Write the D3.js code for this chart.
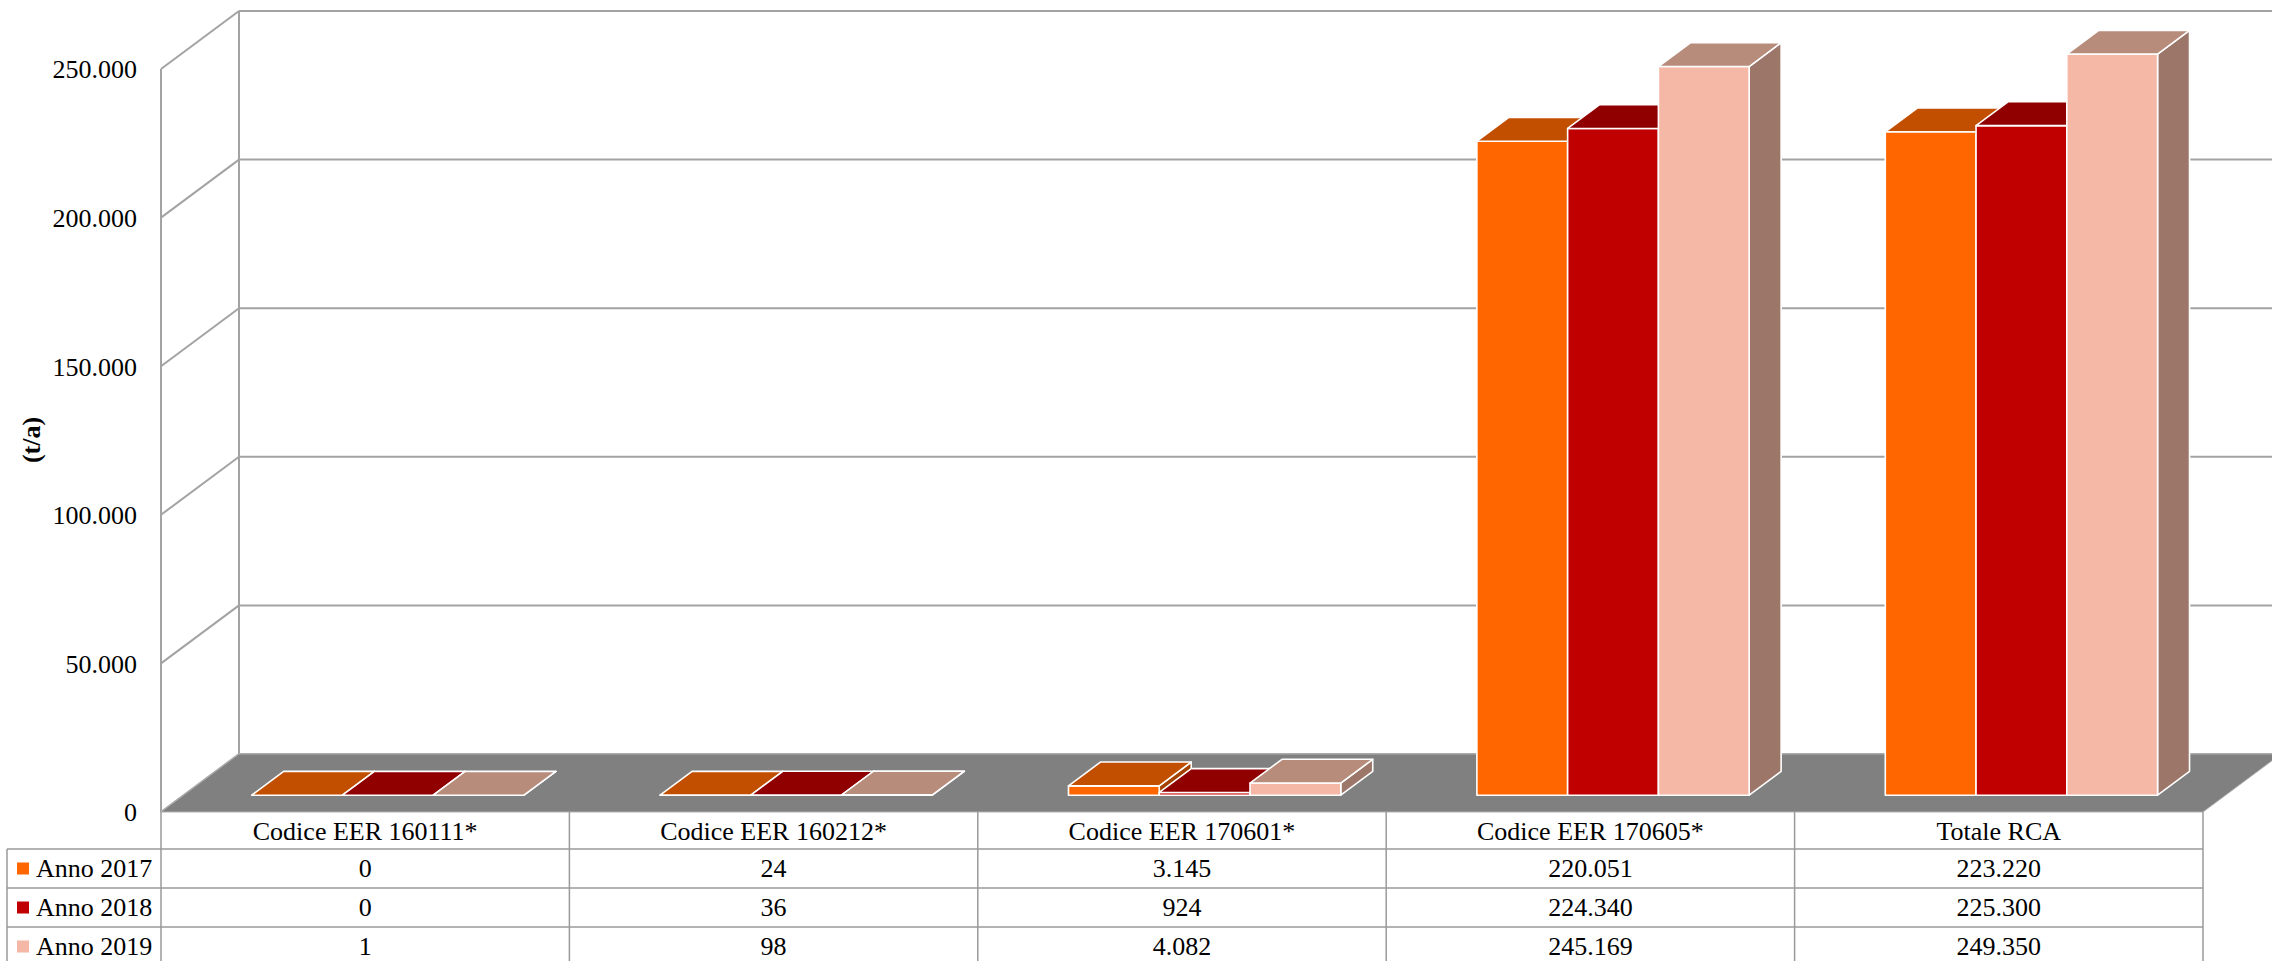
<!DOCTYPE html>
<html lang="it">
<head>
<meta charset="utf-8">
<title>Rifiuti contenenti amianto (t/a)</title>
<script src="https://d3js.org/d3.v7.min.js"></script>
<style>
  body { margin: 0; background: #fff; }
  svg { display: block; }
</style>
</head>
<body>
<svg id="chart"></svg>
<script>
// --- data ---
const categories = ["Codice EER 160111*", "Codice EER 160212*", "Codice EER 170601*", "Codice EER 170605*", "Totale RCA"];
const seriesNames = ["Anno 2017", "Anno 2018", "Anno 2019"];
const anno2017 = [0, 24, 3145, 220051, 223220];
const anno2018 = [0, 36, 924, 224340, 225300];
const anno2019 = [1, 98, 4082, 245169, 249350];
const yTicks = [0, 50000, 100000, 150000, 200000, 250000];
const yTitle = "(t/a)";

const frontColors = ["#FF6600", "#C00000", "#F5B8A6"];
const topColors   = ["#C24F00", "#900000", "#B88C7B"];
const sideColors  = ["#A34200", "#7A0000", "#9C7668"];

const W = 2272, H = 961;
const DX = 78, DY = 58;          // depth of the floor in screen px
const d0 = 0.29, d1 = 0.70;      // bar front / back as fraction of depth
const gridColor = "#a3a3a3";
const FONT = "'Liberation Serif', 'Times New Roman', Times, serif";

const svg = d3.select("#chart").attr("width", W).attr("height", H)
  .attr("font-family", FONT).style("font-family", FONT);

const y = d3.scaleLinear().domain([0, 250000]).range([812, 69]);
const x = d3.scaleBand().domain(categories).range([161, 2203]);
const xs = d3.scaleBand().domain(seriesNames).range([0, x.bandwidth()]).paddingOuter(0.75);

const it = d3.formatLocale({ decimal: ",", thousands: ".", grouping: [3], currency: ["€", ""] });
const fmt = it.format(",d");

const values = [anno2017, anno2018, anno2019];

// walls
const walls = svg.append("g").attr("fill", "none").attr("stroke", gridColor).attr("stroke-width", 2);
yTicks.forEach(t => {
  walls.append("line").attr("x1", x.range()[0] + DX).attr("x2", W + 10)
    .attr("y1", y(t) - DY).attr("y2", y(t) - DY);
  walls.append("line").attr("x1", x.range()[0]).attr("x2", x.range()[0] + DX)
    .attr("y1", y(t)).attr("y2", y(t) - DY);
});
walls.append("line").attr("x1", x.range()[0]).attr("x2", x.range()[0])
  .attr("y1", y(250000)).attr("y2", y(0));
walls.append("line").attr("x1", x.range()[0] + DX).attr("x2", x.range()[0] + DX)
  .attr("y1", y(250000) - DY).attr("y2", y(0) - DY);

// floor
const [fx0, fx1] = x.range();
svg.append("polygon")
  .attr("points", [[fx0, y(0)], [fx1, y(0)], [fx1 + DX, y(0) - DY], [fx0 + DX, y(0) - DY]].join(" "))
  .attr("fill", "#808080").attr("stroke", "#b0b0b0").attr("stroke-width", 1);

// bars, left to right so nearer faces cover the ones behind
const bars = svg.append("g").attr("stroke", "#fff").attr("stroke-width", 1.6).attr("stroke-linejoin", "round");
const ddx = (d1 - d0) * DX, ddy = (d1 - d0) * DY;
categories.forEach((c, ci) => {
  seriesNames.forEach((s, si) => {
    const v = values[si][ci];
    const X0 = x(c) + xs(s) + d0 * DX;
    const X1 = X0 + xs.bandwidth();
    const Yb = y(0) - d0 * DY;
    const Yt = y(v) - d0 * DY;
    const g = bars.append("g");
    g.append("polygon").attr("fill", sideColors[si])
      .attr("points", [[X1, Yt], [X1, Yb], [X1 + ddx, Yb - ddy], [X1 + ddx, Yt - ddy]].join(" "));
    g.append("rect").attr("fill", frontColors[si])
      .attr("x", X0).attr("y", Yt).attr("width", X1 - X0).attr("height", Yb - Yt);
    g.append("polygon").attr("fill", topColors[si])
      .attr("points", [[X0, Yt], [X1, Yt], [X1 + ddx, Yt - ddy], [X0 + ddx, Yt - ddy]].join(" "));
  });
});

// value axis at the front left corner
const axis = svg.append("g").attr("transform", `translate(${fx0},0)`)
  .call(d3.axisLeft(y).tickValues(yTicks).tickSize(0).tickPadding(24).tickFormat(fmt));
axis.attr("font-family", FONT).attr("font-size", 26);
axis.select(".domain").remove();
axis.selectAll("text").attr("fill", "#000").attr("dy", "0.34em");

svg.append("text").attr("transform", "translate(31,440) rotate(-90)")
  .attr("text-anchor", "middle").attr("dy", "0.34em")
  .attr("font-size", 26).attr("font-weight", "bold").text(yTitle);

// data table
const rowY = [812, 849, 888, 927, 966];
const tbl = svg.append("g").attr("font-size", 26);
const lines = tbl.append("g").attr("stroke", "#9a9a9a").attr("stroke-width", 1.5);
categories.forEach(c => {
  lines.append("line").attr("x1", x(c)).attr("x2", x(c)).attr("y1", rowY[0]).attr("y2", H);
});
lines.append("line").attr("x1", fx1).attr("x2", fx1).attr("y1", rowY[0]).attr("y2", H);
lines.append("line").attr("x1", 7).attr("x2", 7).attr("y1", rowY[1]).attr("y2", H);
rowY.slice(1, 4).forEach(ry => {
  lines.append("line").attr("x1", 7).attr("x2", fx1).attr("y1", ry).attr("y2", ry);
});

tbl.selectAll("text.head").data(categories).join("text").attr("class", "head")
  .attr("x", d => x(d) + x.bandwidth() / 2).attr("y", (rowY[0] + rowY[1]) / 2 + 1)
  .attr("text-anchor", "middle").attr("dy", "0.34em").text(d => d);

seriesNames.forEach((s, si) => {
  const cy = (rowY[si + 1] + rowY[si + 2]) / 2;
  tbl.append("rect").attr("x", 17).attr("y", cy - 6).attr("width", 12).attr("height", 12)
    .attr("fill", frontColors[si]);
  tbl.append("text").attr("x", 36).attr("y", cy).attr("dy", "0.34em").text(s);
  tbl.selectAll(null).data(categories).join("text")
    .attr("x", d => x(d) + x.bandwidth() / 2).attr("y", cy)
    .attr("text-anchor", "middle").attr("dy", "0.34em")
    .text((d, ci) => fmt(values[si][ci]));
});
</script>
</body>
</html>
